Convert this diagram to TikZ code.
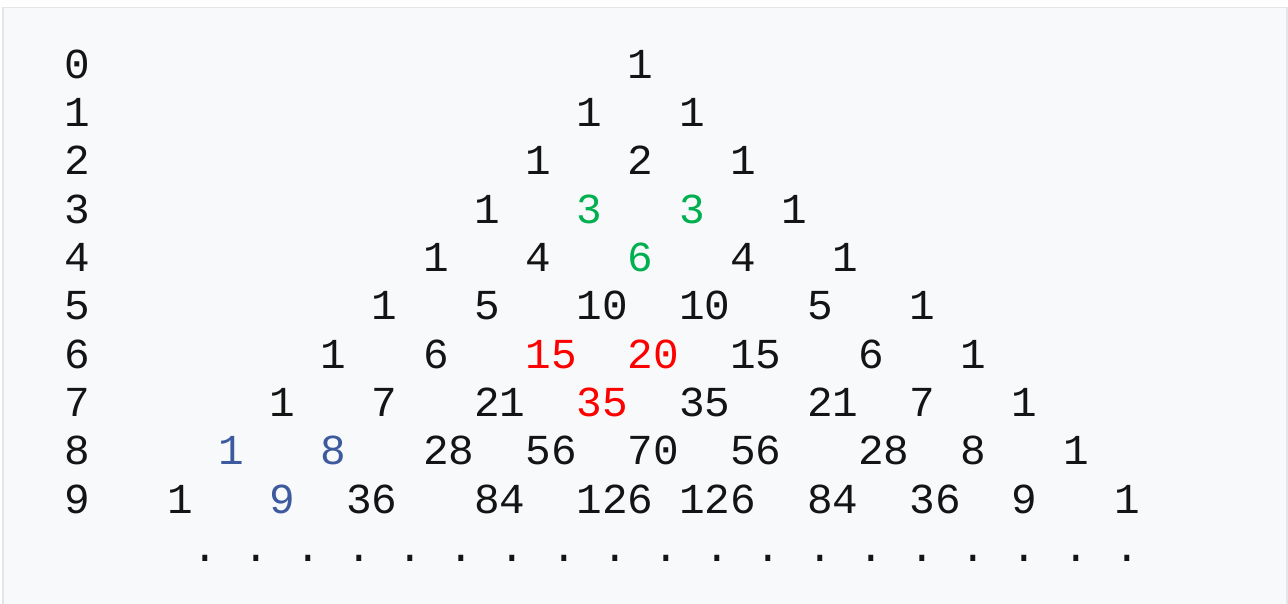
\documentclass[tikz,border=0pt]{standalone}
\usepackage{fontspec}
\setmonofont{Liberation Mono}
\usepackage{xcolor}
\usetikzlibrary{positioning}
\definecolor{codebg}{HTML}{F8F9FA}
\definecolor{codeframe}{HTML}{E3E5E8}
\definecolor{hlgreen}{HTML}{00B050}
\definecolor{hlred}{HTML}{FF0000}
\definecolor{hlblue}{HTML}{3D5A9E}
\tikzset{
	cell/.style={anchor=base, inner sep=0pt, text=black!92,
		font=\ttfamily\fontsize{42.7}{48}\selectfont},
	cellg/.style={cell, text=hlgreen},
	cellr/.style={cell, text=hlred},
	cellb/.style={cell, text=hlblue},
	codebox/.style={fill=codebg, draw=codeframe, line width=1.5pt}
}

\begin{document}
\begin{tikzpicture}[x=25.6pt, y=-48.33pt]
	\useasboundingbox (-3.027,-1.620) rectangle (47.285,10.877);
	\draw[codebox] (-2.91,-1.465) rectangle (47.246,11.0);
	
	% Row numbers
	\foreach \r in {0,...,9}
	\node[cell] (row-\r) at (0,\r) {\r};
	
	% Triangle rows (column of centre / value / style)
	\foreach \x/\v/\s [count=\k] in {22/1/cell}
	\node[\s] (p0-\k) at (\x,0) {\v};
	\foreach \x/\v/\s [count=\k] in {20/1/cell, 24/1/cell}
	\node[\s] (p1-\k) at (\x,1) {\v};
	\foreach \x/\v/\s [count=\k] in {18/1/cell, 22/2/cell, 26/1/cell}
	\node[\s] (p2-\k) at (\x,2) {\v};
	\foreach \x/\v/\s [count=\k] in {16/1/cell, 20/3/cellg, 24/3/cellg, 28/1/cell}
	\node[\s] (p3-\k) at (\x,3) {\v};
	\foreach \x/\v/\s [count=\k] in {14/1/cell, 18/4/cell, 22/6/cellg, 26/4/cell, 30/1/cell}
	\node[\s] (p4-\k) at (\x,4) {\v};
	\foreach \x/\v/\s [count=\k] in {12/1/cell, 16/5/cell, 20.5/10/cell, 24.5/10/cell, 29/5/cell, 33/1/cell}
	\node[\s] (p5-\k) at (\x,5) {\v};
	\foreach \x/\v/\s [count=\k] in {10/1/cell, 14/6/cell, 18.5/15/cellr, 22.5/20/cellr,
		26.5/15/cell, 31/6/cell, 35/1/cell}
	\node[\s] (p6-\k) at (\x,6) {\v};
	\foreach \x/\v/\s [count=\k] in {8/1/cell, 12/7/cell, 16.5/21/cell, 20.5/35/cellr,
		24.5/35/cell, 29.5/21/cell, 33/7/cell, 37/1/cell}
	\node[\s] (p7-\k) at (\x,7) {\v};
	\foreach \x/\v/\s [count=\k] in {6/1/cellb, 10/8/cellb, 14.5/28/cell, 18.5/56/cell,
		22.5/70/cell, 26.5/56/cell, 31.5/28/cell, 35/8/cell, 39/1/cell}
	\node[\s] (p8-\k) at (\x,8) {\v};
	\foreach \x/\v/\s [count=\k] in {4/1/cell, 8/9/cellb, 11.5/36/cell, 16.5/84/cell,
		21/126/cell, 25/126/cell, 29.5/84/cell, 33.5/36/cell, 37/9/cell, 41/1/cell}
	\node[\s] (p9-\k) at (\x,9) {\v};
	
	% Trailing dots
	\foreach \k in {0,...,18}
	\node[cell] (dot-\k) at (5+2*\k,10) {.};
\end{tikzpicture}
\end{document}
